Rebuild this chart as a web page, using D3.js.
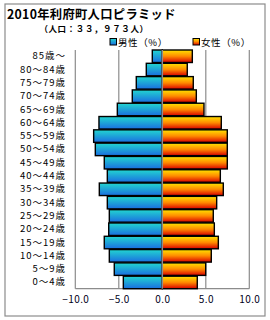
<!DOCTYPE html>
<html><head><meta charset="utf-8">
<script src="https://cdn.jsdelivr.net/npm/d3@7"></script>
<style>body{margin:0;background:#fff}svg{display:block}</style>
</head><body><svg id="c" width="270" height="320"></svg>
<script>
const ages = ["0～4歳","5～9歳","10～14歳","15～19歳","20～24歳","25～29歳","30～34歳","35～39歳","40～44歳","45～49歳","50～54歳","55～59歳","60～64歳","65～69歳","70～74歳","75～79歳","80～84歳","85歳～"];
const male = [4.48,5.52,6.09,6.67,6.16,6.09,6.32,7.24,6.32,6.67,7.70,7.89,7.28,5.17,3.45,2.99,1.84,1.15];
const female = [4.02,4.99,5.63,6.44,5.98,5.86,6.25,7.01,6.67,7.47,7.47,7.47,6.78,4.79,3.91,3.56,2.87,3.45];
const ticks = [-10,-5,0,5,10];
const title = "2010年利府町人口ピラミッド";
const subtitle = "（人口：３３，９７３人）";
const legendLabels = ["男性（%）","女性（%）"];

const svg = d3.select("#c");
const font = "'Noto Sans CJK JP','Noto Sans',sans-serif";
const defs = svg.append("defs");
const gm = defs.append("linearGradient").attr("id","gm").attr("x1",0).attr("y1",0).attr("x2",0).attr("y2",1);
gm.append("stop").attr("offset","0%").attr("stop-color","#22d6d0");
gm.append("stop").attr("offset","100%").attr("stop-color","#1a6ee0");
const gf = defs.append("linearGradient").attr("id","gf").attr("x1",0).attr("y1",0).attr("x2",0).attr("y2",1);
gf.append("stop").attr("offset","0%").attr("stop-color","#ffe400");
gf.append("stop").attr("offset","50%").attr("stop-color","#ff8a00");
gf.append("stop").attr("offset","100%").attr("stop-color","#d80000");

// frame
svg.append("rect").attr("x",5).attr("y",4).attr("width",260).attr("height",312)
  .attr("fill","none").attr("stroke","#8c8c8c").attr("stroke-width",1.2);

svg.append("text").attr("x",7).attr("y",18.5).attr("font-family",font).attr("font-weight","bold")
  .attr("font-size",12.3).attr("letter-spacing","0.3px").attr("fill","#000").text(title);
svg.append("text").attr("x",94).attr("y",32).attr("text-anchor","middle").attr("font-family",font)
  .attr("font-weight","bold").attr("font-size",8.5).attr("letter-spacing","0.6px").attr("fill","#000").text(subtitle);

const x = d3.scaleLinear().domain([-10,10]).range([75.3,249.3]);
const y = d3.scaleBand().domain(ages.slice().reverse()).range([50,288.7]).paddingInner(0.06);

const g = svg.append("g");
// gridlines
g.selectAll("line.grid").data(ticks).join("line").attr("class","grid")
  .attr("x1",d=>x(d)).attr("x2",d=>x(d)).attr("y1",50).attr("y2",288.7)
  .attr("stroke","#8c8c8c").attr("stroke-width",1.2);
g.append("line").attr("x1",x(-10)).attr("x2",x(10)).attr("y1",288.7).attr("y2",288.7)
  .attr("stroke","#8c8c8c").attr("stroke-width",1.2);

g.selectAll("rect.m").data(ages).join("rect").attr("class","m")
  .attr("x",(d,i)=>x(-male[i])).attr("width",(d,i)=>x(0)-x(-male[i]))
  .attr("y",d=>y(d)).attr("height",y.bandwidth())
  .attr("fill","url(#gm)").attr("stroke","#000").attr("stroke-width",1.4);
g.selectAll("rect.f").data(ages).join("rect").attr("class","f")
  .attr("x",x(0)).attr("width",(d,i)=>x(female[i])-x(0))
  .attr("y",d=>y(d)).attr("height",y.bandwidth())
  .attr("fill","url(#gf)").attr("stroke","#000").attr("stroke-width",1.4);
g.append("line").attr("x1",x(0)).attr("x2",x(0)).attr("y1",50).attr("y2",288.7)
  .attr("stroke","#8c8c8c").attr("stroke-width",1.5);

// y axis labels
const ya = svg.append("g").attr("transform","translate(66,0)")
  .call(d3.axisLeft(y).tickSize(0).tickPadding(0));
ya.select(".domain").remove();
ya.selectAll("text").attr("font-family",font).attr("font-size",9.5).attr("fill","#000").attr("letter-spacing","1px");

// x axis labels
const xa = svg.append("g").attr("transform","translate(0,296)")
  .call(d3.axisBottom(x).tickValues(ticks).tickFormat(d3.format(".1f")).tickSize(0).tickPadding(0));
xa.select(".domain").remove();
xa.selectAll("text").attr("font-family",font).attr("font-size",10).attr("fill","#000022").attr("letter-spacing","0.4px");

// legend
const leg = svg.append("g");
const lx = [110,193];
const lf = ["url(#gm)","url(#gf)"];
leg.selectAll("rect").data(legendLabels).join("rect")
  .attr("x",(d,i)=>lx[i]).attr("y",38.5).attr("width",6.5).attr("height",6.5)
  .attr("fill",(d,i)=>lf[i]).attr("stroke","#000").attr("stroke-width",1);
leg.selectAll("text").data(legendLabels).join("text")
  .attr("x",(d,i)=>lx[i]+8).attr("y",46).attr("font-family",font).attr("font-size",9.5)
  .attr("letter-spacing","0.6px").attr("fill","#000").text(d=>d);
</script></body></html>
